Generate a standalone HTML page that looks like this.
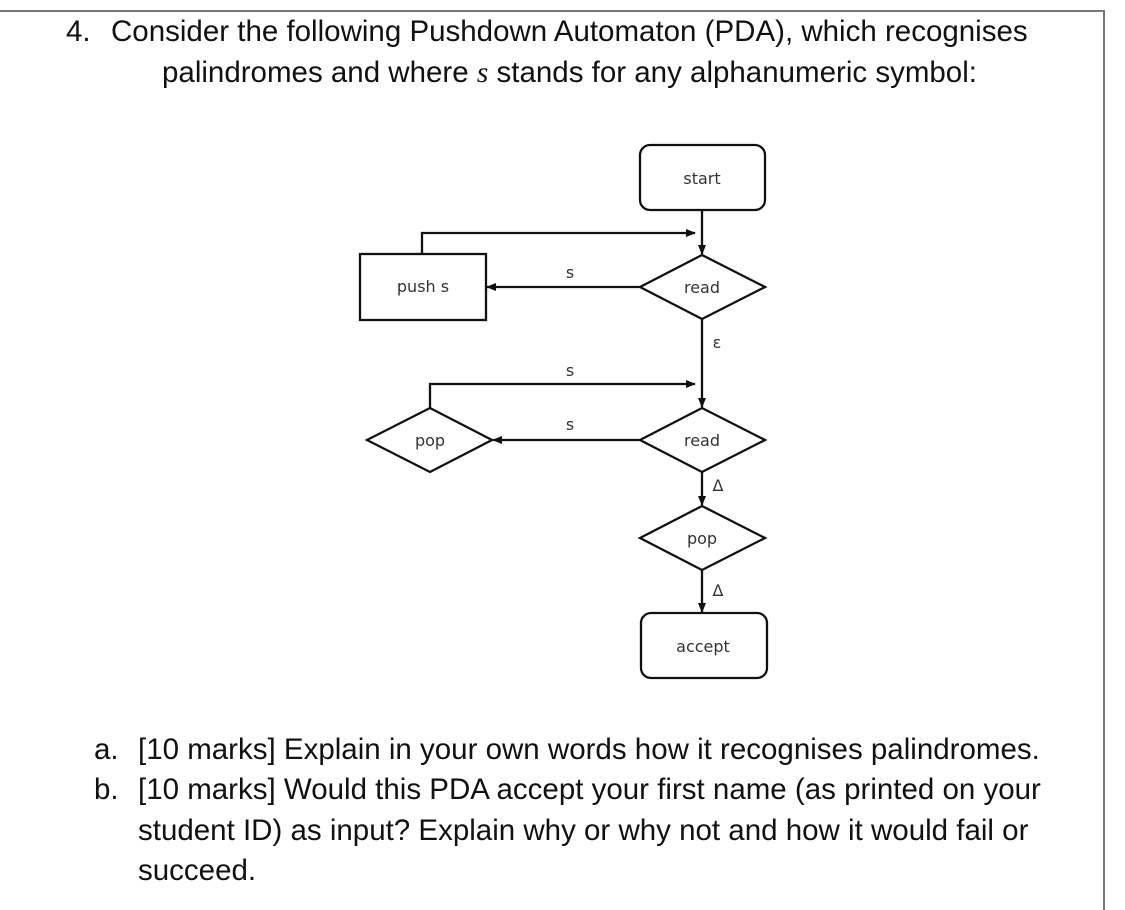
<!DOCTYPE html>
<html><head><meta charset="utf-8"><style>
body{margin:0;width:1125px;height:910px;background:#fff;position:relative;overflow:hidden;font-family:"Liberation Sans",Arial,sans-serif;color:#111}
.t{position:absolute;font-size:29.5px;white-space:nowrap;line-height:1}
.bt{position:absolute;left:0;top:10px;width:1104px;border-top:2px solid #777}
.br{position:absolute;left:1103px;top:10px;height:900px;border-left:2px solid #777}
</style></head><body>
<div class="bt"></div><div class="br"></div>
<div class="t" style="left:66px;top:17px">4.</div>
<div class="t" style="left:111px;top:17px">Consider the following Pushdown Automaton (PDA), which recognises</div>
<div class="t" style="left:162px;top:58px">palindromes and where <i style="font-family:'Liberation Serif',serif">s</i> stands for any alphanumeric symbol:</div>
<svg style="position:absolute;left:0;top:0" width="1125" height="910">
<defs><marker id="a" markerWidth="10" markerHeight="8" refX="9" refY="4" orient="auto" markerUnits="userSpaceOnUse"><path d="M0,0 L10,4 L0,8z" fill="#111"/></marker></defs>
<g fill="none" stroke="#111" stroke-width="2.3">
<rect x="640" y="145" width="125" height="65" rx="10"/>
<polygon points="640,287 702,255 765,287 702,319"/>
<rect x="360" y="254" width="126" height="66"/>
<polygon points="640,440 702,408 765,440 702,472"/>
<polygon points="367,440 430,408 492,440 430,472"/>
<polygon points="640,538 702,506 765,538 702,570"/>
<rect x="641" y="613" width="126" height="65" rx="10"/>
<line x1="702" y1="210" x2="702" y2="254" marker-end="url(#a)"/>
<polyline points="422,254 422,233 695,233" marker-end="url(#a)"/>
<line x1="640" y1="287" x2="487" y2="287" marker-end="url(#a)"/>
<line x1="702" y1="319" x2="702" y2="407" marker-end="url(#a)"/>
<polyline points="430,408 430,384 695,384" marker-end="url(#a)"/>
<line x1="640" y1="440" x2="493" y2="440" marker-end="url(#a)"/>
<line x1="702" y1="472" x2="702" y2="505" marker-end="url(#a)"/>
<line x1="702" y1="570" x2="702" y2="612" marker-end="url(#a)"/>
</g>
<g font-family="DejaVu Sans,sans-serif" font-size="16" fill="#333" text-anchor="middle">
<text x="702" y="184">start</text>
<text x="702" y="293">read</text>
<text x="423" y="292">push s</text>
<text x="702" y="446">read</text>
<text x="430" y="446">pop</text>
<text x="702" y="544">pop</text>
<text x="703" y="652">accept</text>
<text x="570" y="278">s</text>
<text x="570" y="376">s</text>
<text x="570" y="430">s</text>
<text x="717" y="348">ε</text>
<text x="718" y="491">Δ</text>
<text x="718" y="596">Δ</text>
</g>
</svg>
<div class="t" style="left:94px;top:735px">a.</div>
<div class="t" style="left:138px;top:735px">[10 marks] Explain in your own words how it recognises palindromes.</div>
<div class="t" style="left:94px;top:775px">b.</div>
<div class="t" style="left:138px;top:775px">[10 marks] Would this PDA accept your first name (as printed on your</div>
<div class="t" style="left:138px;top:816px">student ID) as input? Explain why or why not and how it would fail or</div>
<div class="t" style="left:138px;top:856px">succeed.</div>
</body></html>
